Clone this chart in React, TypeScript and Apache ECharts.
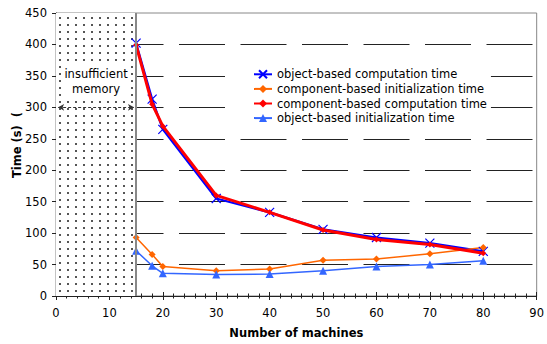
import React, { useEffect, useRef } from 'react';
import * as echarts from 'echarts';

const machines = [15, 18, 20, 30, 40, 50, 60, 70, 80];
const objCompute = [402, 313, 265, 155, 133, 106, 93, 84, 71];
const compInit = [93, 66, 47, 40, 43, 57, 59, 67, 77];
const compCompute = [399, 305, 270, 160, 133, 105, 90, 82, 68];
const objInit = [72, 48, 36, 34, 35, 40, 47, 50, 56];
const seriesNames = [
  'object-based computation time',
  'component-based initialization time',
  'component-based computation time',
  'object-based initialization time',
];
const memoryLimit = 15;
const arrowLevel = 300;
const xRange = [0, 90, 10];
const yRange = [0, 450, 50];

const pair = (ys: number[]) => machines.map((x, i) => [x, ys[i]]);

export default function App() {
  const ref = useRef<HTMLDivElement>(null);
  useEffect(() => {
    if (!ref.current) return;
    const chart = echarts.init(ref.current, undefined, { renderer: 'svg' });
    const cv = document.createElement('canvas');
    cv.width = 8;
    cv.height = 7;
    const ctx = cv.getContext('2d')!;
    ctx.fillStyle = '#ffffff';
    ctx.fillRect(0, 0, 8, 7);
    ctx.fillStyle = '#555555';
    ctx.fillRect(3, 3, 2, 2);

    const font = 'DejaVu Sans';
    const fs = 11.5;
    const axisCommon = {
      type: 'value' as const,
      min: xRange[0],
      max: xRange[1],
      interval: xRange[2],
    };
    chart.setOption({
      animation: false,
      textStyle: { fontFamily: font },
      grid: {
        left: 56,
        right: 6,
        top: 13,
        bottom: 46,
        show: true,
        borderColor: '#888888',
        borderWidth: 1,
        backgroundColor: '#ffffff',
      },
      xAxis: [
        {
          ...axisCommon,
          position: 'bottom',
          name: 'Number of machines',
          nameLocation: 'middle',
          nameGap: 31,
          nameTextStyle: { fontWeight: 'bold', fontSize: fs, color: '#000', fontFamily: font },
          axisLine: { show: true, lineStyle: { color: '#222', width: 1 } },
          axisTick: { show: true, inside: false, length: 4, lineStyle: { color: '#222' } },
          minorTick: { show: true, splitNumber: 5, length: 2.5, lineStyle: { color: '#222' } },
          axisLabel: { fontSize: fs, color: '#000', margin: 11, fontFamily: font },
          splitLine: { show: false },
        },
        {
          ...axisCommon,
          position: 'bottom',
          axisLine: { show: false },
          axisTick: { show: true, inside: true, length: 4, lineStyle: { color: '#222' } },
          minorTick: { show: true, splitNumber: 5, length: 2.5, lineStyle: { color: '#222' } },
          axisLabel: { show: false },
          splitLine: { show: false },
        },
      ],
      yAxis: {
        type: 'value',
        min: yRange[0],
        max: yRange[1],
        interval: yRange[2],
        axisLine: { show: true, lineStyle: { color: '#222', width: 1 } },
        axisTick: { show: true, length: 4, lineStyle: { color: '#222' } },
        axisLabel: { fontSize: fs, color: '#000', margin: 9, fontFamily: font },
        splitLine: {
          show: true,
          showMinLine: false,
          showMaxLine: false,
          lineStyle: { color: '#222', width: 1, type: [46, 15.5] },
        },
      },
      legend: {
        orient: 'vertical',
        left: 240,
        top: 63,
        padding: [4, 4, 4, 13],
        backgroundColor: '#ffffff',
        itemWidth: 18,
        itemHeight: 10,
        itemGap: 0,
        textStyle: { fontSize: fs, color: '#000', lineHeight: 14.6, fontFamily: font },
        data: seriesNames,
      },
      graphic: [
        {
          type: 'text',
          x: 17,
          y: 145,
          rotation: Math.PI / 2,
          style: {
            text: 'Time (s)  (',
            fontSize: fs,
            fontWeight: 'bold',
            fontFamily: font,
            fill: '#000',
            align: 'center',
            verticalAlign: 'middle',
          },
        },
      ],
      series: [
        {
          name: seriesNames[0],
          type: 'line',
          data: pair(objCompute),
          symbol: 'path://M0,0L10,10M10,0L0,10',
          symbolSize: 9,
          lineStyle: { color: '#0000ff', width: 2.2 },
          itemStyle: { color: '#0000ff', borderColor: '#0000ff', borderWidth: 1.2 },
          z: 3,
          markArea: {
            silent: true,
            itemStyle: {
              color: { image: cv, repeat: 'repeat' } as any,
            },
            label: {
              show: true,
              position: 'insideTop',
              distance: 52,
              formatter: 'insufficient\nmemory',
              fontSize: fs,
              lineHeight: 15,
              color: '#000',
              fontFamily: font,
              backgroundColor: '#ffffff',
              padding: [1, 1],
            },
            data: [[{ xAxis: 0 }, { xAxis: memoryLimit }]],
          },
          markLine: {
            silent: true,
            symbol: ['none', 'none'],
            label: { show: false },
            lineStyle: { color: '#888888', width: 2, type: 'solid' },
            data: [{ xAxis: memoryLimit }],
          },
        },
        {
          name: seriesNames[1],
          type: 'line',
          data: pair(compInit),
          symbol: 'diamond',
          symbolSize: 7,
          lineStyle: { color: '#ff6600', width: 1.5 },
          itemStyle: { color: '#ff6600' },
          z: 3,
          markLine: {
            silent: true,
            symbol: ['arrow', 'arrow'],
            symbolSize: [5, 6],
            label: { show: false },
            lineStyle: { color: '#333333', width: 1, type: [3, 2] },
            data: [[{ coord: [0.4, arrowLevel] }, { coord: [memoryLimit - 0.4, arrowLevel] }]],
          },
        },
        {
          name: seriesNames[2],
          type: 'line',
          data: pair(compCompute),
          symbol: 'diamond',
          symbolSize: 6,
          lineStyle: { color: '#ff0000', width: 3 },
          itemStyle: { color: '#ff0000' },
          z: 4,
        },
        {
          name: seriesNames[3],
          type: 'line',
          data: pair(objInit),
          symbol: 'triangle',
          symbolSize: 8,
          lineStyle: { color: '#3366ff', width: 1.5 },
          itemStyle: { color: '#3366ff' },
          z: 3,
        },
      ],
    });
    return () => chart.dispose();
  }, []);
  return <div ref={ref} style={{ width: 547, height: 344, position: 'absolute', left: 0, top: 0 }} />;
}
